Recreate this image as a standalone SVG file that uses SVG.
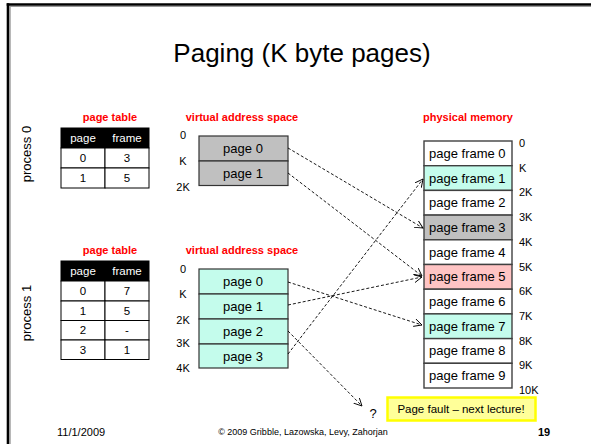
<svg xmlns="http://www.w3.org/2000/svg" width="591" height="444" viewBox="0 0 591 444">
<style>
text{font-family:"Liberation Sans",Arial,sans-serif;fill:#000}
.red{fill:#FF0000;font-weight:bold;font-size:11px;text-anchor:middle}
.th{fill:#fff;font-size:11.5px;text-anchor:middle}
.td{font-size:11.5px;text-anchor:middle}
.lab{font-size:11px}
.pg{font-size:13px;text-anchor:middle}
.pf{font-size:13px}
.cell{fill:#fff;stroke:#000;stroke-width:1}
.vg{fill:#C0C0C0;stroke:#333;stroke-width:1.2}
.va{fill:#C4FCEC;stroke:#333;stroke-width:1.2}
.fw{fill:#fff;stroke:#404040;stroke-width:1.4}
.fa{fill:#C4FCEC;stroke:#404040;stroke-width:1.4}
.fg{fill:#C0C0C0;stroke:#404040;stroke-width:1.4}
.fp{fill:#FFC4C4;stroke:#404040;stroke-width:1.4}
.arr{fill:none;stroke:#000;stroke-width:0.9;stroke-dasharray:3,2;marker-end:url(#ah)}
</style>
<defs>
<marker id="ah" markerUnits="userSpaceOnUse" markerWidth="10" markerHeight="10" refX="8" refY="4" orient="auto">
<path d="M0,0 L8,4 L0,8" fill="none" stroke="#000" stroke-width="0.9"/>
</marker>
</defs>
<rect width="591" height="444" fill="#fff"/>
<g id="frame">
<line x1="10" y1="6.5" x2="591" y2="6.5" stroke="#999" stroke-width="1"/>
<line x1="10.2" y1="6" x2="10.2" y2="444" stroke="#999" stroke-width="1"/>
<line x1="6.7" y1="4.5" x2="591" y2="4.5" stroke="#000" stroke-width="2.6"/>
<line x1="8" y1="3.2" x2="8" y2="444" stroke="#000" stroke-width="2.6"/>
</g>
<text id="title" x="302" y="62" font-size="26" text-anchor="middle">Paging (K byte pages)</text>

<g id="process0-label"><text x="31" y="154" font-size="13" text-anchor="middle" transform="rotate(-90 31 154)">process 0</text></g>
<g id="process1-label"><text x="31" y="313" font-size="13" text-anchor="middle" transform="rotate(-90 31 313)">process 1</text></g>

<g id="pagetable0">
<text class="red" x="110" y="121">page table</text>
<rect x="61" y="128" width="88" height="20" fill="#000" stroke="#000"/>
<rect class="cell" x="61" y="148" width="44" height="20"/><rect class="cell" x="105" y="148" width="44" height="20"/>
<rect class="cell" x="61" y="168" width="44" height="20"/><rect class="cell" x="105" y="168" width="44" height="20"/>
<text class="th" x="83" y="142">page</text><text class="th" x="127" y="142">frame</text>
<text class="td" x="83" y="162">0</text><text class="td" x="127" y="162">3</text>
<text class="td" x="83" y="182">1</text><text class="td" x="127" y="182">5</text>
</g>

<g id="pagetable1">
<text class="red" x="110" y="254">page table</text>
<rect x="61" y="261" width="88" height="20" fill="#000" stroke="#000"/>
<rect class="cell" x="61" y="281" width="44" height="20"/><rect class="cell" x="105" y="281" width="44" height="20"/>
<rect class="cell" x="61" y="301" width="44" height="19.5"/><rect class="cell" x="105" y="301" width="44" height="19.5"/>
<rect class="cell" x="61" y="320.5" width="44" height="19.5"/><rect class="cell" x="105" y="320.5" width="44" height="19.5"/>
<rect class="cell" x="61" y="340" width="44" height="19.5"/><rect class="cell" x="105" y="340" width="44" height="19.5"/>
<text class="th" x="83" y="275">page</text><text class="th" x="127" y="275">frame</text>
<text class="td" x="83" y="295">0</text><text class="td" x="127" y="295">7</text>
<text class="td" x="83" y="314.5">1</text><text class="td" x="127" y="314.5">5</text>
<text class="td" x="83" y="334">2</text><text class="td" x="127" y="334">-</text>
<text class="td" x="83" y="353.5">3</text><text class="td" x="127" y="353.5">1</text>
</g>

<g id="vas0">
<text class="red" x="242" y="121">virtual address space</text>
<rect class="vg" x="199" y="136" width="89" height="25"/>
<rect class="vg" x="199" y="161" width="89" height="24.5"/>
<text class="pg" x="243" y="153">page 0</text>
<text class="pg" x="243" y="177.5">page 1</text>
<text class="lab" x="183" y="139" text-anchor="middle">0</text>
<text class="lab" x="183" y="165" text-anchor="middle">K</text>
<text class="lab" x="183" y="191" text-anchor="middle">2K</text>
</g>

<g id="vas1">
<text class="red" x="242" y="254">virtual address space</text>
<rect class="va" x="199" y="269" width="89" height="25"/>
<rect class="va" x="199" y="294" width="89" height="25"/>
<rect class="va" x="199" y="319" width="89" height="25"/>
<rect class="va" x="199" y="344" width="89" height="24"/>
<text class="pg" x="243" y="286">page 0</text>
<text class="pg" x="243" y="311">page 1</text>
<text class="pg" x="243" y="336">page 2</text>
<text class="pg" x="243" y="360.5">page 3</text>
<text class="lab" x="183" y="273" text-anchor="middle">0</text>
<text class="lab" x="183" y="298" text-anchor="middle">K</text>
<text class="lab" x="183" y="324" text-anchor="middle">2K</text>
<text class="lab" x="183" y="347" text-anchor="middle">3K</text>
<text class="lab" x="183" y="372" text-anchor="middle">4K</text>
</g>

<g id="physical">
<text class="red" x="468" y="121">physical memory</text>
<rect class="fw" x="424" y="141" width="88" height="24.7"/>
<rect class="fa" x="424" y="165.7" width="88" height="24.7"/>
<rect class="fw" x="424" y="190.4" width="88" height="24.7"/>
<rect class="fg" x="424" y="215.1" width="88" height="24.7"/>
<rect class="fw" x="424" y="239.8" width="88" height="24.7"/>
<rect class="fp" x="424" y="264.5" width="88" height="24.7"/>
<rect class="fw" x="424" y="289.2" width="88" height="24.7"/>
<rect class="fa" x="424" y="313.9" width="88" height="24.7"/>
<rect class="fw" x="424" y="338.6" width="88" height="24.7"/>
<rect class="fw" x="424" y="363.3" width="88" height="24.7"/>
<text class="pf" x="429" y="157.8">page frame 0</text>
<text class="pf" x="429" y="182.5">page frame 1</text>
<text class="pf" x="429" y="207.2">page frame 2</text>
<text class="pf" x="429" y="231.9">page frame 3</text>
<text class="pf" x="429" y="256.6">page frame 4</text>
<text class="pf" x="429" y="281.3">page frame 5</text>
<text class="pf" x="429" y="306">page frame 6</text>
<text class="pf" x="429" y="330.7">page frame 7</text>
<text class="pf" x="429" y="355.4">page frame 8</text>
<text class="pf" x="429" y="380.1">page frame 9</text>
<text class="lab" x="519" y="147">0</text>
<text class="lab" x="519" y="171.7">K</text>
<text class="lab" x="519" y="196.4">2K</text>
<text class="lab" x="519" y="221">3K</text>
<text class="lab" x="519" y="245.8">4K</text>
<text class="lab" x="519" y="270.5">5K</text>
<text class="lab" x="519" y="295">6K</text>
<text class="lab" x="519" y="320">7K</text>
<text class="lab" x="519" y="344.6">8K</text>
<text class="lab" x="519" y="369.3">9K</text>
<text class="lab" x="519" y="394">10K</text>
</g>

<g id="connectors">
<line class="arr" x1="288" y1="148" x2="423" y2="228"/>
<line class="arr" x1="288" y1="173" x2="422" y2="276"/>
<line class="arr" x1="288" y1="282" x2="422" y2="325"/>
<line class="arr" x1="288" y1="305" x2="422" y2="277"/>
<line class="arr" x1="288" y1="354" x2="423" y2="179"/>
<line class="arr" x1="288" y1="331" x2="362" y2="406"/>
</g>

<g id="unknown"><text x="373" y="418" font-size="13" text-anchor="middle">?</text></g>

<g id="pagefault">
<rect x="387.5" y="397.5" width="148" height="23" fill="#FFFF99" stroke="#FFFF00" stroke-width="2.5"/>
<text x="461" y="413" font-size="11.5" text-anchor="middle">Page fault – next lecture!</text>
</g>

<g id="footer">
<text x="57" y="436" font-size="11">11/1/2009</text>
<text x="303" y="435" font-size="9" text-anchor="middle">© 2009 Gribble, Lazowska, Levy, Zahorjan</text>
<text x="544" y="436" font-size="11" font-weight="bold" text-anchor="middle">19</text>
</g>
</svg>
